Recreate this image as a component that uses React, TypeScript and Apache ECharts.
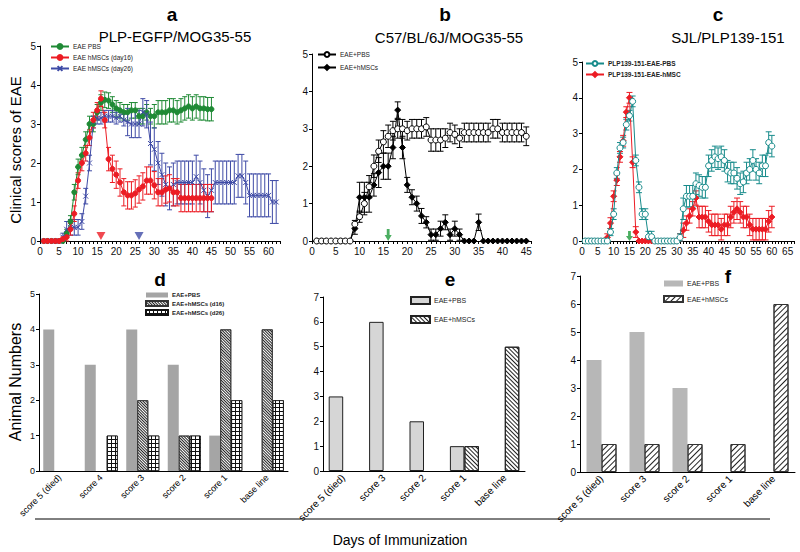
import React, { useEffect, useRef } from 'react';
import * as echarts from 'echarts';

const range = (a: number, b: number) => Array.from({ length: b - a + 1 }, (_, i) => a + i);

// ---------- Panel a : PLP-EGFP/MOG35-55 ----------
const aDays45 = range(1, 45);
const aDays62 = range(1, 62);
const aPbs = [0, 0, 0, 0, 0, 0, 0.2, 0.5, 1.25, 1.9, 2.2, 2.6, 3.0, 3.0, 3.3, 3.55, 3.62, 3.6, 3.5, 3.4, 3.35, 3.3, 3.3, 3.35, 3.35, 3.2, 3.2, 3.3, 3.2, 3.2, 3.3, 3.3, 3.3, 3.35, 3.35, 3.3, 3.35, 3.4, 3.45, 3.4, 3.45, 3.4, 3.4, 3.38, 3.38];
const aPbsErr = [0, 0, 0, 0, 0, 0, 0.1, 0.15, 0.2, 0.2, 0.2, 0.2, 0.2, 0.2, 0.2, 0.2, 0.2, 0.2, 0.2, 0.2, 0.2, 0.2, 0.2, 0.2, 0.2, 0.2, 0.2, 0.2, 0.2, 0.3, 0.3, 0.3, 0.3, 0.3, 0.3, 0.3, 0.3, 0.3, 0.3, 0.3, 0.3, 0.3, 0.3, 0.3, 0.3];
const aD16 = [0, 0, 0, 0, 0, 0.05, 0.1, 0.3, 0.7, 1.55, 2.0, 2.25, 2.65, 3.1, 3.35, 3.65, 3.1, 2.1, 1.85, 1.7, 1.5, 1.25, 1.17, 1.17, 1.22, 1.32, 1.4, 1.55, 1.55, 1.43, 1.25, 1.25, 1.32, 1.35, 1.25, 1.25, 1.1, 1.1, 1.1, 1.1, 1.1, 1.1, 1.1, 1.1, 1.1];
const aD16Err = [0, 0, 0, 0, 0, 0.05, 0.1, 0.15, 0.2, 0.2, 0.2, 0.2, 0.2, 0.2, 0.2, 0.2, 0.2, 0.3, 0.35, 0.35, 0.35, 0.35, 0.35, 0.35, 0.35, 0.35, 0.35, 0.35, 0.35, 0.35, 0.35, 0.35, 0.35, 0.35, 0.35, 0.35, 0.35, 0.35, 0.35, 0.35, 0.35, 0.35, 0.35, 0.35, 0.35];
const aD26 = [0, 0, 0, 0, 0, 0.1, 0.3, 0.35, 0.35, 0.35, 0.5, 1.15, 2.0, 3.05, 3.15, 3.15, 3.2, 3.2, 3.2, 3.15, 3.2, 3.1, 3.05, 3.0, 3.0, 3.0, 3.3, 3.25, 2.5, 2.35, 2.0, 1.7, 1.45, 1.35, 1.45, 1.5, 1.5, 1.5, 1.5, 1.5, 1.65, 1.5, 1.3, 1.15, 1.3, 1.5, 1.5, 1.5, 1.5, 1.5, 1.5, 1.67, 1.67, 1.5, 1.17, 1.17, 1.17, 1.17, 1.17, 1.17, 1.0, 1.0];
const aD26Err = [0, 0, 0, 0, 0, 0.1, 0.2, 0.2, 0.2, 0.2, 0.2, 0.2, 0.2, 0.15, 0.15, 0.15, 0.15, 0.15, 0.15, 0.15, 0.15, 0.15, 0.35, 0.35, 0.35, 0.35, 0.35, 0.35, 0.55, 0.55, 0.55, 0.55, 0.55, 0.55, 0.55, 0.55, 0.55, 0.55, 0.55, 0.55, 0.55, 0.55, 0.55, 0.55, 0.55, 0.55, 0.55, 0.55, 0.55, 0.55, 0.55, 0.55, 0.55, 0.55, 0.55, 0.55, 0.55, 0.55, 0.55, 0.55, 0.55, 0.55];
const aTreatD16 = [16];
const aTreatD26 = [26];

// ---------- Panel b : C57/BL/6J/MOG35-55 ----------
const bDays = range(1, 45);
const bPbs = [0, 0, 0, 0, 0, 0, 0, 0, 0.45, 0.65, 1.0, 1.45, 2.0, 2.4, 2.65, 2.8, 2.95, 3.0, 3.0, 2.95, 3.0, 3.0, 3.0, 3.05, 2.7, 2.7, 2.7, 2.75, 2.9, 2.85, 2.75, 2.9, 2.9, 2.9, 2.9, 2.9, 2.9, 3.0, 3.0, 2.9, 2.9, 2.9, 2.9, 2.9, 2.8];
const bPbsErr = [0, 0, 0, 0, 0, 0, 0, 0, 0.1, 0.15, 0.3, 0.3, 0.3, 0.3, 0.3, 0.3, 0.25, 0.25, 0.25, 0.25, 0.25, 0.25, 0.25, 0.25, 0.3, 0.3, 0.3, 0.25, 0.25, 0.25, 0.25, 0.25, 0.25, 0.25, 0.25, 0.25, 0.25, 0.25, 0.25, 0.25, 0.25, 0.25, 0.25, 0.25, 0.25];
const bMsc = [0, 0, 0, 0, 0, 0, 0, 0, 0.33, 1.17, 1.17, 1.17, 1.5, 1.83, 2.0, 2.0, 2.5, 3.5, 2.5, 1.5, 1.17, 1.0, 0.67, 0.5, 0.17, 0.17, 0.33, 0.5, 0.17, 0.33, 0.17, 0, 0, 0, 0.5, 0, 0, 0, 0, 0, 0, 0, 0, 0, 0];
const bMscErr = [0, 0, 0, 0, 0, 0, 0, 0, 0.15, 0.4, 0.4, 0.4, 0.3, 0.4, 0.35, 0.35, 0.3, 0.22, 0.3, 0.2, 0.2, 0.2, 0.2, 0.15, 0.15, 0.15, 0.2, 0.2, 0.15, 0.2, 0.15, 0, 0, 0, 0.22, 0, 0, 0, 0, 0, 0, 0, 0, 0, 0];
const bTreat = [16];

// ---------- Panel c : SJL/PLP139-151 ----------
const cDays = range(1, 60);
const cPbs = [0, 0, 0, 0, 0, 0, 0, 0, 0.25, 0.75, 1.9, 2.6, 2.75, 3.25, 3.5, 3.9, 2.25, 1.5, 0.75, 0.75, 0.12, 0.12, 0, 0, 0, 0, 0, 0, 0, 0, 0.1, 0.9, 1.25, 1.25, 1.25, 1.6, 1.55, 1.5, 1.5, 2.1, 2.25, 2.35, 2.3, 2.35, 2.25, 1.95, 1.9, 1.9, 1.75, 1.6, 1.65, 1.9, 2.0, 2.25, 2.0, 1.9, 2.1, 2.1, 2.75, 2.65];
const cPbsErr = [0, 0, 0, 0, 0, 0, 0, 0, 0.1, 0.15, 0.15, 0.15, 0.15, 0.15, 0.15, 0.15, 0.15, 0.15, 0.15, 0.15, 0.15, 0.15, 0, 0, 0, 0, 0, 0, 0, 0, 0.1, 0.3, 0.3, 0.3, 0.3, 0.3, 0.3, 0.3, 0.3, 0.3, 0.3, 0.3, 0.3, 0.3, 0.3, 0.3, 0.3, 0.3, 0.3, 0.3, 0.3, 0.3, 0.3, 0.3, 0.3, 0.3, 0.3, 0.3, 0.3, 0.3];
const cMsc = [0, 0, 0, 0, 0, 0, 0, 0.1, 0.5, 1.25, 1.7, 2.35, 2.8, 3.6, 4.0, 2.2, 0.25, 0, 0, 0, 0, 0, 0, 0, 0, 0, 0, 0, 0, 0, 0.1, 0.3, 0.5, 0.7, 0.9, 1.2, 0.67, 0.67, 0.67, 0.55, 0.45, 0.45, 0.45, 0.33, 0.45, 0.45, 0.67, 0.8, 0.9, 0.8, 0.67, 0.67, 0.45, 0.33, 0.33, 0.33, 0.33, 0.33, 0.55, 0.67];
const cMscErr = [0, 0, 0, 0, 0, 0, 0, 0.1, 0.15, 0.15, 0.15, 0.15, 0.15, 0.15, 0.15, 0.15, 0.15, 0, 0, 0, 0, 0, 0, 0, 0, 0, 0, 0, 0, 0, 0.1, 0.2, 0.2, 0.2, 0.2, 0.2, 0.3, 0.3, 0.3, 0.3, 0.3, 0.3, 0.3, 0.3, 0.3, 0.3, 0.3, 0.3, 0.3, 0.3, 0.3, 0.3, 0.3, 0.3, 0.3, 0.3, 0.3, 0.3, 0.3, 0.3];
const cTreat = [15];

// ---------- Panels d, e, f : animal numbers ----------
const dCats = ['score 5 (died)', 'score 4', 'score 3', 'score 2', 'score 1', 'base line'];
const dPbs = [4, 3, 4, 3, 1, 0];
const dD16 = [0, 0, 2, 1, 4, 4];
const dD26 = [0, 1, 1, 1, 2, 2];
const eCats = ['score 5 (died)', 'score 3', 'score 2', 'score 1', 'base line'];
const ePbs = [3, 6, 2, 1, 0];
const eMsc = [0, 0, 0, 1, 5];
const fCats = ['score 5 (died)', 'score 3', 'score 2', 'score 1', 'base line'];
const fPbs = [4, 5, 3, 0, 0];
const fMsc = [1, 1, 1, 1, 6];

const LABELS: Record<string, string> = {
  aPBS: 'EAE PBS', aD16: 'EAE hMSCs (day16)', aD26: 'EAE hMSCs (day26)',
  bPBS: 'EAE+PBS', bMSC: 'EAE+hMSCs',
  cPBS: 'PLP139-151-EAE-PBS', cMSC: 'PLP139-151-EAE-hMSC',
  dPBS: 'EAE+PBS', dD16: 'EAE+hMSCs (d16)', dD26: 'EAE+hMSCs (d26)',
  ePBS: 'EAE+PBS', eMSC: 'EAE+hMSCs',
  fPBS: 'EAE+PBS', fMSC: 'EAE+hMSCs',
};

const GREEN = '#1f8a35';
const RED = '#ec1c24';
const BLUE = '#3f4ba6';
const TEAL = '#178b8b';
const ARROW_GREEN = '#1e9a3a';
const FONT = '"Liberation Sans", Arial, sans-serif';

const makeErr = (cap: number) => (_params: any, api: any) => {
  const x = api.value(0);
  const p1 = api.coord([x, api.value(1)]);
  const p2 = api.coord([x, api.value(2)]);
  const style = { stroke: api.visual('color'), lineWidth: 1, fill: null };
  return {
    type: 'group',
    children: [
      { type: 'line', shape: { x1: p1[0], y1: p1[1], x2: p2[0], y2: p2[1] }, style },
      { type: 'line', shape: { x1: p1[0] - cap, y1: p1[1], x2: p1[0] + cap, y2: p1[1] }, style },
      { type: 'line', shape: { x1: p2[0] - cap, y1: p2[1], x2: p2[0] + cap, y2: p2[1] }, style },
    ],
  };
};

const errSeries = (days: number[], vals: number[], errs: number[], color: string, xi: number, cap: number, z = 2) => ({
  type: 'custom',
  xAxisIndex: xi,
  yAxisIndex: xi,
  silent: true,
  itemStyle: { color },
  renderItem: makeErr(cap),
  encode: { x: 0, y: [1, 2] },
  data: days
    .map((d, i) => [d, Math.max(0, vals[i] - errs[i]), vals[i] + errs[i], errs[i]])
    .filter((r) => r[3] > 0),
  z,
});

const lineSeries = (name: string, days: number[], vals: number[], xi: number, color: string, symbol: string, size: number, fill?: string, z = 3) => ({
  name,
  type: 'line',
  xAxisIndex: xi,
  yAxisIndex: xi,
  data: days.map((d, i) => [d, vals[i]]),
  symbol,
  symbolSize: size,
  showSymbol: true,
  lineStyle: { color, width: 1 },
  itemStyle: { color: fill ?? color, borderColor: color, borderWidth: 1 },
  z,
});

const markerSeries = (days: number[], xi: number, color: string, symbol: string, size: number[], offset: number, rotate = 0) => ({
  type: 'scatter',
  xAxisIndex: xi,
  yAxisIndex: xi,
  silent: true,
  data: days.map((d) => [d, 0]),
  symbol,
  symbolSize: size,
  symbolRotate: rotate,
  symbolOffset: [0, offset],
  itemStyle: { color },
  z: 6,
});

const X_SYMBOL = 'path://M0,0L10,10M10,0L0,10';
const ARROW = 'path://M3,0L7,0L7,6L10,6L5,12L0,6L3,6Z';

const diagDecal = (rot: number, gap: number) => ({
  symbol: 'rect', symbolSize: 1, color: '#222',
  dashArrayX: [1, 0], dashArrayY: [1, gap], rotation: rot,
});
const gridDecal = {
  symbol: 'rect', symbolSize: 1, color: '#fff',
  dashArrayX: [3, 1], dashArrayY: [3, 1], rotation: 0,
};

const barSeries = (name: string, vals: number[], xi: number, barWidth: number, itemStyle: any) => ({
  name,
  type: 'bar',
  xAxisIndex: xi,
  yAxisIndex: xi,
  data: vals.map((v) => (v === 0 ? null : v)),
  barWidth,
  barGap: '0%',
  itemStyle,
});

const valueX = (gi: number, max: number) => ({
  gridIndex: gi,
  type: 'value',
  min: 0,
  max,
  interval: 1,
  axisLine: { show: true, lineStyle: { color: '#000', width: 1 } },
  axisTick: { show: true, length: 3, lineStyle: { color: '#000' } },
  axisLabel: { fontSize: 10, color: '#111', margin: 5, formatter: (v: number) => (v % 5 === 0 ? String(v) : '') },
  splitLine: { show: false },
});

const catX = (gi: number, data: string[], fontSize: number) => ({
  gridIndex: gi,
  type: 'category',
  data,
  axisLine: { show: true, lineStyle: { color: '#000', width: 1 } },
  axisTick: { show: false },
  axisLabel: { rotate: 45, fontSize, color: '#000', margin: 5, interval: 0 },
  splitLine: { show: false },
});

const valueY = (gi: number, max: number, fontSize = 10) => ({
  gridIndex: gi,
  type: 'value',
  min: 0,
  max,
  interval: 1,
  axisLine: { show: true, lineStyle: { color: '#000', width: 1 } },
  axisTick: { show: true, length: 3, lineStyle: { color: '#000' } },
  axisLabel: { fontSize, color: '#111', margin: 4 },
  splitLine: { show: false },
});

const legendBase = (data: string[], left: number, top: number, gap: number, w: number, h: number, fontSize: number, bold = false, icon?: string) => ({
  data: icon ? data.map((n) => ({ name: n, icon })) : data,
  left,
  top,
  orient: 'vertical',
  itemGap: gap,
  itemWidth: w,
  itemHeight: h,
  padding: 0,
  selectedMode: false,
  formatter: (n: string) => LABELS[n] ?? n,
  textStyle: { fontSize, color: '#222', fontWeight: bold ? 'bold' : 'normal', padding: [0, 0, 0, -1] },
});

const txt = (text: string, x: number, y: number, font: string, rotation = 0) => ({
  type: 'text',
  x,
  y,
  rotation,
  silent: true,
  style: { text, font, fill: '#000', align: 'center', verticalAlign: 'middle', textAlign: 'center', textVerticalAlign: 'middle' },
});

const LETTER_FONT = `bold 19px "Liberation Sans Narrow", "Liberation Sans", Arial, sans-serif`;
const SUB_FONT = `15px ${FONT}`;

const option: any = {
  animation: false,
  backgroundColor: '#fff',
  textStyle: { fontFamily: FONT },
  grid: [
    { left: 40, top: 46, width: 240, height: 195 },
    { left: 312, top: 54, width: 219, height: 187 },
    { left: 582, top: 62, width: 212, height: 179 },
    { left: 39, top: 294, width: 249, height: 177 },
    { left: 323, top: 297, width: 202, height: 174 },
    { left: 580, top: 276, width: 215, height: 196 },
  ],
  xAxis: [
    valueX(0, 63),
    valueX(1, 46),
    valueX(2, 67),
    catX(3, dCats, 9),
    catX(4, eCats, 10),
    catX(5, fCats, 10),
  ],
  yAxis: [valueY(0, 5), valueY(1, 5), valueY(2, 5), valueY(3, 5, 9), valueY(4, 7), valueY(5, 7)],
  legend: [
    legendBase(['aPBS', 'aD16', 'aD26'], 50, 43, 4, 18, 6, 6.5),
    legendBase(['bPBS', 'bMSC'], 317, 51, 6, 18, 6, 6.5),
    legendBase(['cPBS', 'cMSC'], 585, 60, 4, 18, 6, 6.5, true),
    legendBase(['dPBS', 'dD16', 'dD26'], 145, 292, 2, 22, 5, 6, true, 'rect'),
    legendBase(['ePBS', 'eMSC'], 410, 296, 10, 19, 7, 7, false, 'rect'),
    legendBase(['fPBS', 'fMSC'], 663, 280, 8, 19, 6, 7, false, 'rect'),
  ],
  series: [
    // panel a
    errSeries(aDays45, aPbs, aPbsErr, GREEN, 0, 2.5),
    errSeries(aDays62, aD26, aD26Err, BLUE, 0, 2.5),
    errSeries(aDays45, aD16, aD16Err, RED, 0, 2.5),
    lineSeries('aPBS', aDays45, aPbs, 0, GREEN, 'circle', 5),
    lineSeries('aD26', aDays62, aD26, 0, BLUE, X_SYMBOL, 5),
    lineSeries('aD16', aDays45, aD16, 0, RED, 'circle', 5),
    markerSeries(aTreatD16, 0, RED, 'triangle', [9, 8], -5, 180),
    markerSeries(aTreatD26, 0, BLUE, 'triangle', [9, 8], -5, 180),
    // panel b
    errSeries(bDays, bMsc, bMscErr, '#000', 1, 3),
    errSeries(bDays, bPbs, bPbsErr, '#000', 1, 3),
    lineSeries('bMSC', bDays, bMsc, 1, '#000', 'diamond', 6, undefined, 3),
    lineSeries('bPBS', bDays, bPbs, 1, '#000', 'circle', 6, '#fff', 4),
    markerSeries(bTreat, 1, ARROW_GREEN, ARROW, [7, 12], -6),
    // panel c
    errSeries(cDays, cMsc, cMscErr, RED, 2, 3),
    errSeries(cDays, cPbs, cPbsErr, TEAL, 2, 3),
    lineSeries('cMSC', cDays, cMsc, 2, RED, 'diamond', 6, undefined, 3),
    lineSeries('cPBS', cDays, cPbs, 2, TEAL, 'circle', 6, '#fff', 4),
    markerSeries(cTreat, 2, ARROW_GREEN, ARROW, [7, 10], -5),
    // panel d
    barSeries('dPBS', dPbs, 3, 11, { color: '#a5a5a5' }),
    barSeries('dD16', dD16, 3, 11, { color: '#fff', decal: diagDecal(Math.PI / 4, 1), borderColor: '#333', borderWidth: 0.8 }),
    barSeries('dD26', dD26, 3, 11, { color: '#111', decal: gridDecal, borderColor: '#111', borderWidth: 0.8 }),
    // panel e
    barSeries('ePBS', ePbs, 4, 14.5, { color: '#d6d6d6', borderColor: '#222', borderWidth: 1 }),
    barSeries('eMSC', eMsc, 4, 14.5, { color: '#fff', decal: diagDecal(Math.PI / 4, 2), borderColor: '#222', borderWidth: 1 }),
    // panel f
    barSeries('fPBS', fPbs, 5, 15, { color: '#b7b7b7' }),
    barSeries('fMSC', fMsc, 5, 15, { color: '#fff', decal: diagDecal(-Math.PI / 4, 3), borderColor: '#333', borderWidth: 1 }),
  ],
  graphic: [
    txt('a', 172, 14, LETTER_FONT),
    txt('b', 445, 14, LETTER_FONT),
    txt('c', 718, 14, LETTER_FONT),
    txt('PLP-EGFP/MOG35-55', 175, 36, SUB_FONT),
    txt('C57/BL/6J/MOG35-55', 449, 37, SUB_FONT),
    txt('SJL/PLP139-151', 728, 37, SUB_FONT),
    txt('Clinical scores of EAE', 15, 150, `15px ${FONT}`, Math.PI / 2),
    txt('d', 160, 279, LETTER_FONT),
    txt('e', 450, 279, LETTER_FONT),
    txt('f', 728, 276, LETTER_FONT),
    txt('Animal Numbers', 15, 382, `16px ${FONT}`, Math.PI / 2),
    {
      type: 'line',
      silent: true,
      shape: { x1: 35, y1: 519, x2: 770, y2: 519 },
      style: { stroke: '#000', lineWidth: 1 },
    },
    txt('Days of Immunization', 400, 540, `14px ${FONT}`),
  ],
};

export default function App() {
  const ref = useRef<HTMLDivElement>(null);
  useEffect(() => {
    const chart = echarts.init(ref.current!, null, { renderer: 'svg' });
    chart.setOption(option);
    return () => chart.dispose();
  }, []);
  return <div ref={ref} style={{ position: 'fixed', left: 0, top: 0, width: 800, height: 552, background: '#fff' }} />;
}
